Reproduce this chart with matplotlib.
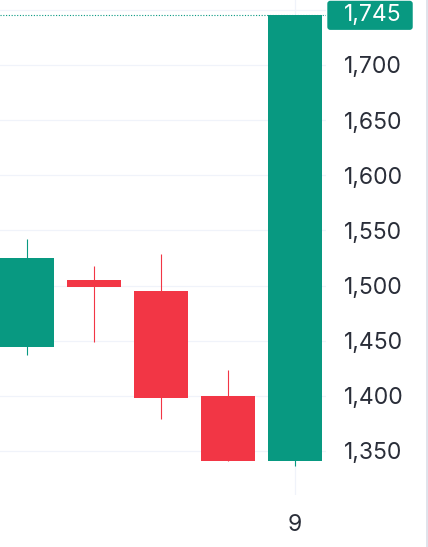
import matplotlib.pyplot as plt
from matplotlib.patches import Rectangle, FancyBboxPatch

# candle data (time index, OHLC)
times = [5, 6, 7, 8, 9]
opens = [1444, 1505, 1495, 1400, 1341]
highs = [1542, 1518, 1529, 1423, 1745]
lows = [1437, 1449, 1379, 1341, 1336]
closes = [1525, 1499, 1398, 1341, 1745]

price_ticks = [1350, 1400, 1450, 1500, 1550, 1600, 1650, 1700]
grid_levels = price_ticks + [1750]
time_ticks = [9]
last_price = 1745

UP = "#089981"
DOWN = "#F23645"
GRID = "#F0F3FA"
TEXT = "#2a2e39"
FS = 16.5

plt.rcParams['font.family'] = ['Inter', 'DejaVu Sans']

fig = plt.figure(figsize=(4.28, 5.47), dpi=100)
ax = fig.add_axes([0, 0.0951, 0.7617, 0.9049])

for lvl in grid_levels:
    ax.axhline(lvl, color=GRID, lw=0.9, zorder=0)
for t in time_ticks:
    ax.axvline(t, color=GRID, lw=0.9, zorder=0)

colors = [UP if c >= o else DOWN for o, c in zip(opens, closes)]
ax.vlines(times, lows, highs, colors=colors, lw=0.8, zorder=2)
ax.bar(times, [c - o for o, c in zip(opens, closes)], bottom=opens,
       width=0.806, color=colors, zorder=3)

# last price line
ax.axhline(last_price, color=UP, lw=0.8, ls=(0, (1, 1.5)), zorder=4)

ax.set_xlim(4.597, 9.463)
ax.set_ylim(1310.1, 1758.9)

ax.yaxis.tick_right()
ax.set_yticks(price_ticks)
ax.set_yticklabels([f"{v:,}" for v in price_ticks])
ax.tick_params(axis='y', length=0, pad=13, labelsize=FS, labelcolor=TEXT)
ax.set_xticks(time_ticks)
ax.set_xticklabels([str(t) for t in time_ticks])
ax.tick_params(axis='x', length=0, pad=14, labelsize=FS, labelcolor=TEXT)

for s in ax.spines.values():
    s.set_visible(False)

# last value label on price scale
ytr = ax.get_yaxis_transform()
box = FancyBboxPatch((1.004, last_price - 13.2), 0.262, 26.4,
                     boxstyle="round,pad=0,rounding_size=0.009",
                     mutation_aspect=296, transform=ytr,
                     fc=UP, ec='none', clip_on=False, zorder=5)
ax.add_patch(box)
ax.text(1.055, last_price, f"{last_price:,}", transform=ytr,
        ha='left', va='center', fontsize=FS, color='white', clip_on=False,
        zorder=6)

# right edge border
fig.add_artist(Rectangle((0.9953, 0), 0.0047, 1, transform=fig.transFigure,
                         color="#E0E3EB", lw=0))

fig.savefig("out.png", dpi=100)
